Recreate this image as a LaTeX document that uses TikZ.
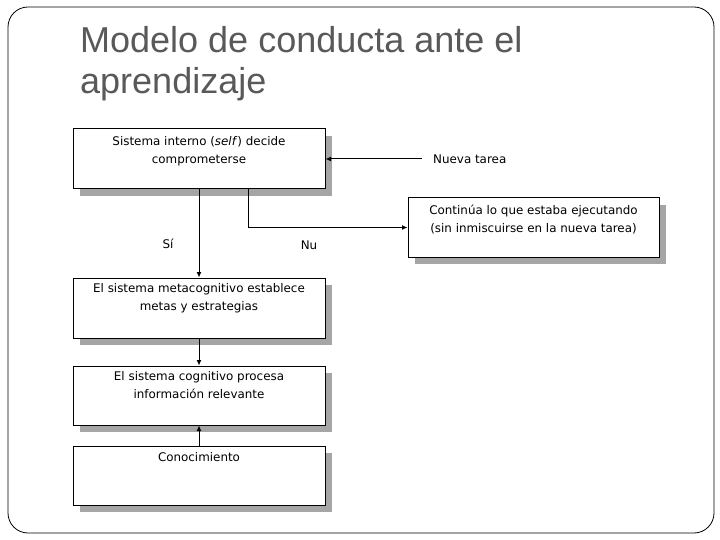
\documentclass[tikz,border=0pt]{standalone}
\usepackage{fontspec}
\setmainfont{Liberation Sans}
\newfontfamily\boxfont{DejaVu Sans}
\usetikzlibrary{arrows.meta,shadows}
\definecolor{titlegray}{RGB}{89,89,89}
\definecolor{shadowgray}{RGB}{165,165,165}
\begin{document}
\begin{tikzpicture}[x=1pt,y=-1pt,
 box/.style={draw=black, line width=1pt, fill=white, minimum width=252pt, inner sep=0pt,
   drop shadow={shadow xshift=7pt, shadow yshift=-7pt, fill=shadowgray, opacity=1}},
 lbl/.style={font=\boxfont\fontsize{11.9}{18}\selectfont, align=center, inner sep=0pt},
 ttl/.style={font=\fontsize{36}{36}\selectfont, text=titlegray, inner sep=0pt, anchor=base west},
 conn/.style={line width=1pt, -{Latex[length=5.5pt,width=5pt]}},
]
\useasboundingbox (0,0) rectangle (720,540);
\draw[line width=0.8pt, rounded corners=20pt] (8,7) rectangle (714,533);

\node[ttl] (title1) at (80,53) {Modelo de conducta ante el};
\node[ttl] (title2) at (80,94) {aprendizaje};

\node[box, minimum height=60pt] (b1) at (199,159) {};
\node[box, minimum width=251pt, minimum height=59pt] (b4) at (533.5,227.5) {};
\node[box, minimum height=60pt] (b2) at (199,308) {};
\node[box, minimum height=59pt] (b3) at (199,395.5) {};
\node[box, minimum height=59pt] (b5) at (199,475.5) {};

\node[lbl, anchor=north] (t1) at ([yshift=-8pt]b1.north) {Sistema interno (\textit{self}) decide\\comprometerse};
\node[lbl, anchor=north] (t4) at ([yshift=-7pt]b4.north) {Continúa lo que estaba ejecutando\\(sin inmiscuirse en la nueva tarea)};
\node[lbl, anchor=north] (t2) at ([yshift=-6pt]b2.north) {El sistema metacognitivo establece\\metas y estrategias};
\node[lbl, anchor=north] (t3) at ([yshift=-6pt]b3.north) {El sistema cognitivo procesa\\información relevante};
\node[lbl, anchor=north] (t5) at ([yshift=-7pt]b5.north) {Conocimiento};

\node[lbl, anchor=west] (nt) at (433,159) {Nueva tarea};
\node[lbl] (si) at (168,244) {Sí};
\node[lbl] (nu) at (309,245) {Nu};

\draw[conn] ([xshift=-11pt]nt.west) -- (nt.west -| b1.east);
\draw[conn] (b1.south) -- (b2.north);
\draw[conn] ([xshift=49pt]b1.south) |- (b4.west);
\draw[conn] (b2.south) -- (b3.north);
\draw[conn] (b5.north) -- (b3.south);
\end{tikzpicture}
\end{document}
